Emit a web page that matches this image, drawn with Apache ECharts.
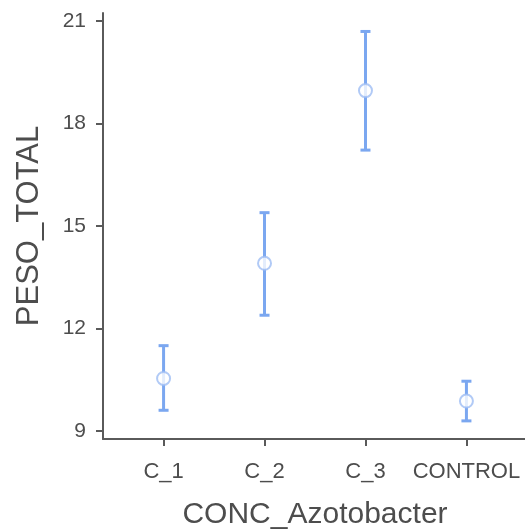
<!DOCTYPE html>
<html>
<head>
<meta charset="utf-8">
<script src="https://cdn.jsdelivr.net/npm/echarts@6/dist/echarts.min.js"></script>
<style>html,body{margin:0;padding:0;background:#fff}#c{width:525px;height:531px}</style>
</head>
<body>
<div id="c"></div>
<script>
var categories = ['C_1', 'C_2', 'C_3', 'CONTROL'];
var means = [10.54, 13.91, 18.96, 9.88];
var lowers = [9.61, 12.39, 17.22, 9.30];
var uppers = [11.50, 15.39, 20.69, 10.46];
var yTicks = [9, 12, 15, 18, 21];

var chart = echarts.init(document.getElementById('c'), null, {renderer: 'canvas'});
var errData = categories.map(function (c, i) { return [i, lowers[i], uppers[i]]; });
var ptData = categories.map(function (c, i) { return [i, means[i]]; });
var axisColor = '#5a5a5a';
var textColor = '#4d4d4d';
var font = 'Liberation Sans';

chart.setOption({
  animation: false,
  backgroundColor: '#ffffff',
  grid: {left: 103, top: 13, width: 424, height: 426, containLabel: false, outerBoundsMode: 'none'},
  xAxis: {
    type: 'value', min: -0.6, max: 3.6,
    name: 'CONC_Azotobacter', nameLocation: 'middle', nameGap: 61,
    nameTextStyle: {fontFamily: font, fontSize: 30, color: textColor},
    axisLine: {show: true, onZero: false, lineStyle: {color: axisColor, width: 2}},
    axisTick: {show: true, customValues: [0, 1, 2, 3], length: 7, lineStyle: {color: axisColor, width: 2}},
    axisLabel: {
      customValues: [0, 1, 2, 3], margin: 22,
      fontFamily: font, fontSize: 22, color: textColor,
      formatter: function (v) { return categories[Math.round(v)]; }
    },
    splitLine: {show: false}
  },
  yAxis: {
    type: 'value', min: 8.77, max: 21.23,
    name: 'PESO_TOTAL', nameLocation: 'middle', nameGap: 58, nameRotate: 90,
    nameTextStyle: {fontFamily: font, fontSize: 31, color: textColor},
    axisLine: {show: true, onZero: false, lineStyle: {color: axisColor, width: 2}},
    axisTick: {show: true, customValues: yTicks, length: 7, lineStyle: {color: axisColor, width: 2}},
    axisLabel: {
      customValues: yTicks, margin: 17,
      fontFamily: font, fontSize: 21, color: textColor
    },
    splitLine: {show: false}
  },
  series: [
    {
      type: 'custom',
      data: errData,
      encode: {x: 0, y: [1, 2]},
      renderItem: function (params, api) {
        var x = api.value(0);
        var lo = api.coord([x, api.value(1)]);
        var hi = api.coord([x, api.value(2)]);
        var hw = 5;
        var st = {stroke: '#7ba7f0', lineWidth: 3, fill: null};
        return {
          type: 'group',
          children: [
            {type: 'line', shape: {x1: hi[0], y1: hi[1], x2: lo[0], y2: lo[1]}, style: st},
            {type: 'line', shape: {x1: hi[0] - hw, y1: hi[1], x2: hi[0] + hw, y2: hi[1]}, style: st},
            {type: 'line', shape: {x1: lo[0] - hw, y1: lo[1], x2: lo[0] + hw, y2: lo[1]}, style: st}
          ]
        };
      },
      z: 2
    },
    {
      type: 'scatter',
      data: ptData,
      symbol: 'circle',
      symbolSize: 13,
      itemStyle: {color: '#ffffff', borderColor: '#9dbdf4', borderWidth: 2},
      z: 3
    }
  ]
});
</script>
</body>
</html>
